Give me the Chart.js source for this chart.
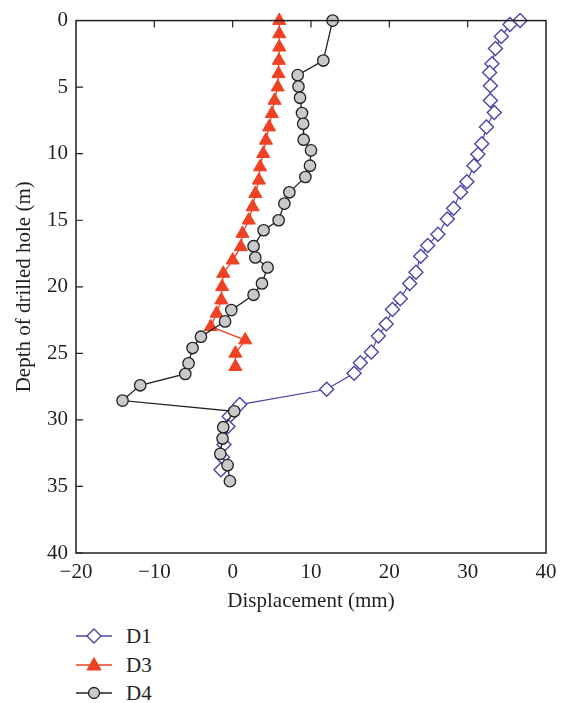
<!DOCTYPE html>
<html>
<head>
<meta charset="utf-8">
<script src="https://cdn.jsdelivr.net/npm/chart.js@4/dist/chart.umd.min.js"></script>
<style>
  html, body { margin: 0; padding: 0; background: #fff; }
  #wrap { position: relative; width: 564px; height: 703px; }
  #box { position: absolute; left: 0; top: 0; width: 564px; height: 620px; }
  .leg { position: absolute; left: 74px; height: 24px; display: flex; align-items: center;
         font-family: "Liberation Serif", "Times New Roman", serif; font-size: 21px; color: #231f20; }
  .leg svg { margin-right: 12px; }
</style>
</head>
<body>
<div id="wrap">
  <div id="box"><canvas id="c"></canvas></div>
  <div class="leg" style="top:624px">
    <svg width="40" height="24"><line x1="2" y1="12" x2="38" y2="12" stroke="#4a46a6" stroke-width="1.3"/><polygon points="20,5 27,12 20,19 13,12" fill="#fff" stroke="#4a46a6" stroke-width="1.4"/></svg><span>D1</span>
  </div>
  <div class="leg" style="top:653px">
    <svg width="40" height="24"><line x1="2" y1="12" x2="38" y2="12" stroke="#ef4123" stroke-width="1.3"/><polygon points="20,4.5 27,17 13,17" fill="#ef4123" stroke="#ef4123" stroke-width="1"/></svg><span>D3</span>
  </div>
  <div class="leg" style="top:681px">
    <svg width="40" height="24"><line x1="2" y1="12" x2="38" y2="12" stroke="#231f20" stroke-width="1.3"/><circle cx="20" cy="12" r="5.5" fill="#c8c9cb" stroke="#231f20" stroke-width="1.3"/></svg><span>D4</span>
  </div>
</div>
<script>
// ---- data ----
const xTickValues = [-20, -10, 0, 10, 20, 30, 40];
const yTickValues = [0, 5, 10, 15, 20, 25, 30, 35, 40];

const d1Disp  = [36.7, 35.4, 34.3, 33.55, 33.1, 32.8, 32.9, 32.9, 33.4, 32.4, 31.8, 31.3, 30.8, 29.9, 29.1, 28.2, 27.4, 26.2, 24.9, 24.0, 23.4, 22.6, 21.4, 20.4, 19.6, 18.6, 17.7, 16.3, 15.5, 12.0, 0.9, -0.45, -0.6, -1.1, -1.3, -1.5];
const d1Depth = [0, 0.3, 1.2, 2.1, 3.25, 3.9, 4.9, 6.0, 6.9, 8.0, 9.25, 10.05, 10.9, 12.1, 12.9, 14.1, 14.9, 16.05, 16.9, 17.7, 18.9, 19.75, 20.9, 21.7, 22.8, 23.7, 24.9, 25.7, 26.5, 27.7, 28.85, 29.75, 30.5, 31.85, 32.8, 33.75];

const d3Disp  = [5.95, 5.95, 5.95, 5.9, 5.85, 5.75, 5.35, 5.0, 4.65, 4.25, 3.9, 3.5, 3.35, 2.9, 2.55, 2.05, 1.25, 1.05, 0.0, -1.2, -1.35, -1.45, -2.05, -2.8, 1.6, 0.35, 0.35];
const d3Depth = [0, 1, 2, 3, 4, 5, 6, 7, 8, 9, 10, 11, 12, 13, 14, 15, 16, 17, 18, 19, 20, 21, 22, 23, 24, 25, 26];

const d4Disp  = [12.76, 11.57, 8.3, 8.4, 8.6, 8.85, 9.0, 9.06, 10.0, 9.87, 9.28, 7.24, 6.6, 5.87, 3.95, 2.67, 2.89, 4.46, 3.74, 2.67, -0.17, -0.97, -4.05, -5.12, -5.63, -6.05, -11.8, -14.06, 0.2, -1.2, -1.29, -1.58, -0.65, -0.35];
const d4Depth = [0, 3.0, 4.1, 4.95, 5.8, 6.95, 7.75, 8.95, 9.75, 10.9, 11.75, 12.9, 13.75, 15.0, 15.75, 16.95, 17.8, 18.55, 19.75, 20.6, 21.75, 22.6, 23.75, 24.6, 25.75, 26.55, 27.4, 28.55, 29.35, 30.55, 31.4, 32.55, 33.4, 34.6];

const pts = (xs, ys) => xs.map((x, i) => ({ x: x, y: ys[i] }));

const INK = '#231f20';
const FONT = '"Liberation Serif", "Times New Roman", serif';

const framePlugin = {
  id: 'frame',
  afterDraw(chart) {
    const { ctx, chartArea: a, scales } = chart;
    ctx.save();
    ctx.strokeStyle = INK;
    ctx.lineWidth = 1.5;
    ctx.strokeRect(a.left, a.top, a.right - a.left, a.bottom - a.top);
    ctx.lineWidth = 1.2;
    ctx.beginPath();
    // inward ticks on left axis
    yTickValues.forEach(v => {
      if (v === 0) return;
      const py = scales.y.getPixelForValue(v);
      ctx.moveTo(a.left, py); ctx.lineTo(a.left + 7, py);
    });
    // inward ticks on top axis
    xTickValues.forEach(v => {
      if (v === -20 || v === 40) return;
      const px = scales.x.getPixelForValue(v);
      ctx.moveTo(px, a.top); ctx.lineTo(px, a.top + 7);
    });
    ctx.stroke();
    ctx.restore();
  }
};

new Chart(document.getElementById('c'), {
  type: 'scatter',
  data: {
    datasets: [
      {
        label: 'D4', data: pts(d4Disp, d4Depth), showLine: true, order: 0, clip: false,
        borderColor: INK, borderWidth: 1.3, backgroundColor: '#c8c9cb',
        pointStyle: 'circle', pointRadius: 5.7, pointBorderWidth: 1.3,
        pointBorderColor: INK, pointBackgroundColor: '#c8c9cb'
      },
      {
        label: 'D3', data: pts(d3Disp, d3Depth), showLine: true, order: 1, clip: false,
        borderColor: '#ef4123', borderWidth: 1.3, backgroundColor: '#ef4123',
        pointStyle: 'triangle', pointRadius: 7.6, pointBorderWidth: 1,
        pointBorderColor: '#ef4123', pointBackgroundColor: '#ef4123'
      },
      {
        label: 'D1', data: pts(d1Disp, d1Depth), showLine: true, order: 2, clip: false,
        borderColor: '#4a46a6', borderWidth: 1.2, backgroundColor: '#fff',
        pointStyle: 'rectRot', pointRadius: 7, pointBorderWidth: 1.4,
        pointBorderColor: '#4a46a6', pointBackgroundColor: '#fff'
      }
    ]
  },
  options: {
    responsive: true,
    maintainAspectRatio: false,
    animation: false,
    events: [],
    layout: { padding: { top: 20, right: 18, left: 0, bottom: 0 } },
    plugins: { legend: { display: false }, tooltip: { enabled: false } },
    scales: {
      x: {
        type: 'linear', min: -20, max: 40,
        afterBuildTicks(s) { s.ticks = xTickValues.map(v => ({ value: v })); },
        afterFit(s) { s.height = 67; },
        grid: { display: false, drawTicks: false },
        border: { display: false },
        ticks: {
          padding: 7, color: INK, font: { family: FONT, size: 21 },
          callback: v => String(v).replace('-', '\u2212')
        },
        title: { display: true, text: 'Displacement (mm)', color: INK,
                 font: { family: FONT, size: 21 }, padding: { top: 0, bottom: 6 } }
      },
      y: {
        type: 'linear', min: 0, max: 40, reverse: true,
        afterBuildTicks(s) { s.ticks = yTickValues.map(v => ({ value: v })); },
        afterFit(s) { s.width = 76; },
        grid: { display: false, drawTicks: false },
        border: { display: false },
        ticks: { padding: 8, color: INK, font: { family: FONT, size: 21 } },
        title: { display: true, text: 'Depth of drilled hole (m)', color: INK,
                 font: { family: FONT, size: 21 }, padding: { top: 12, bottom: 0 } }
      }
    }
  },
  plugins: [framePlugin]
});
</script>
</body>
</html>
